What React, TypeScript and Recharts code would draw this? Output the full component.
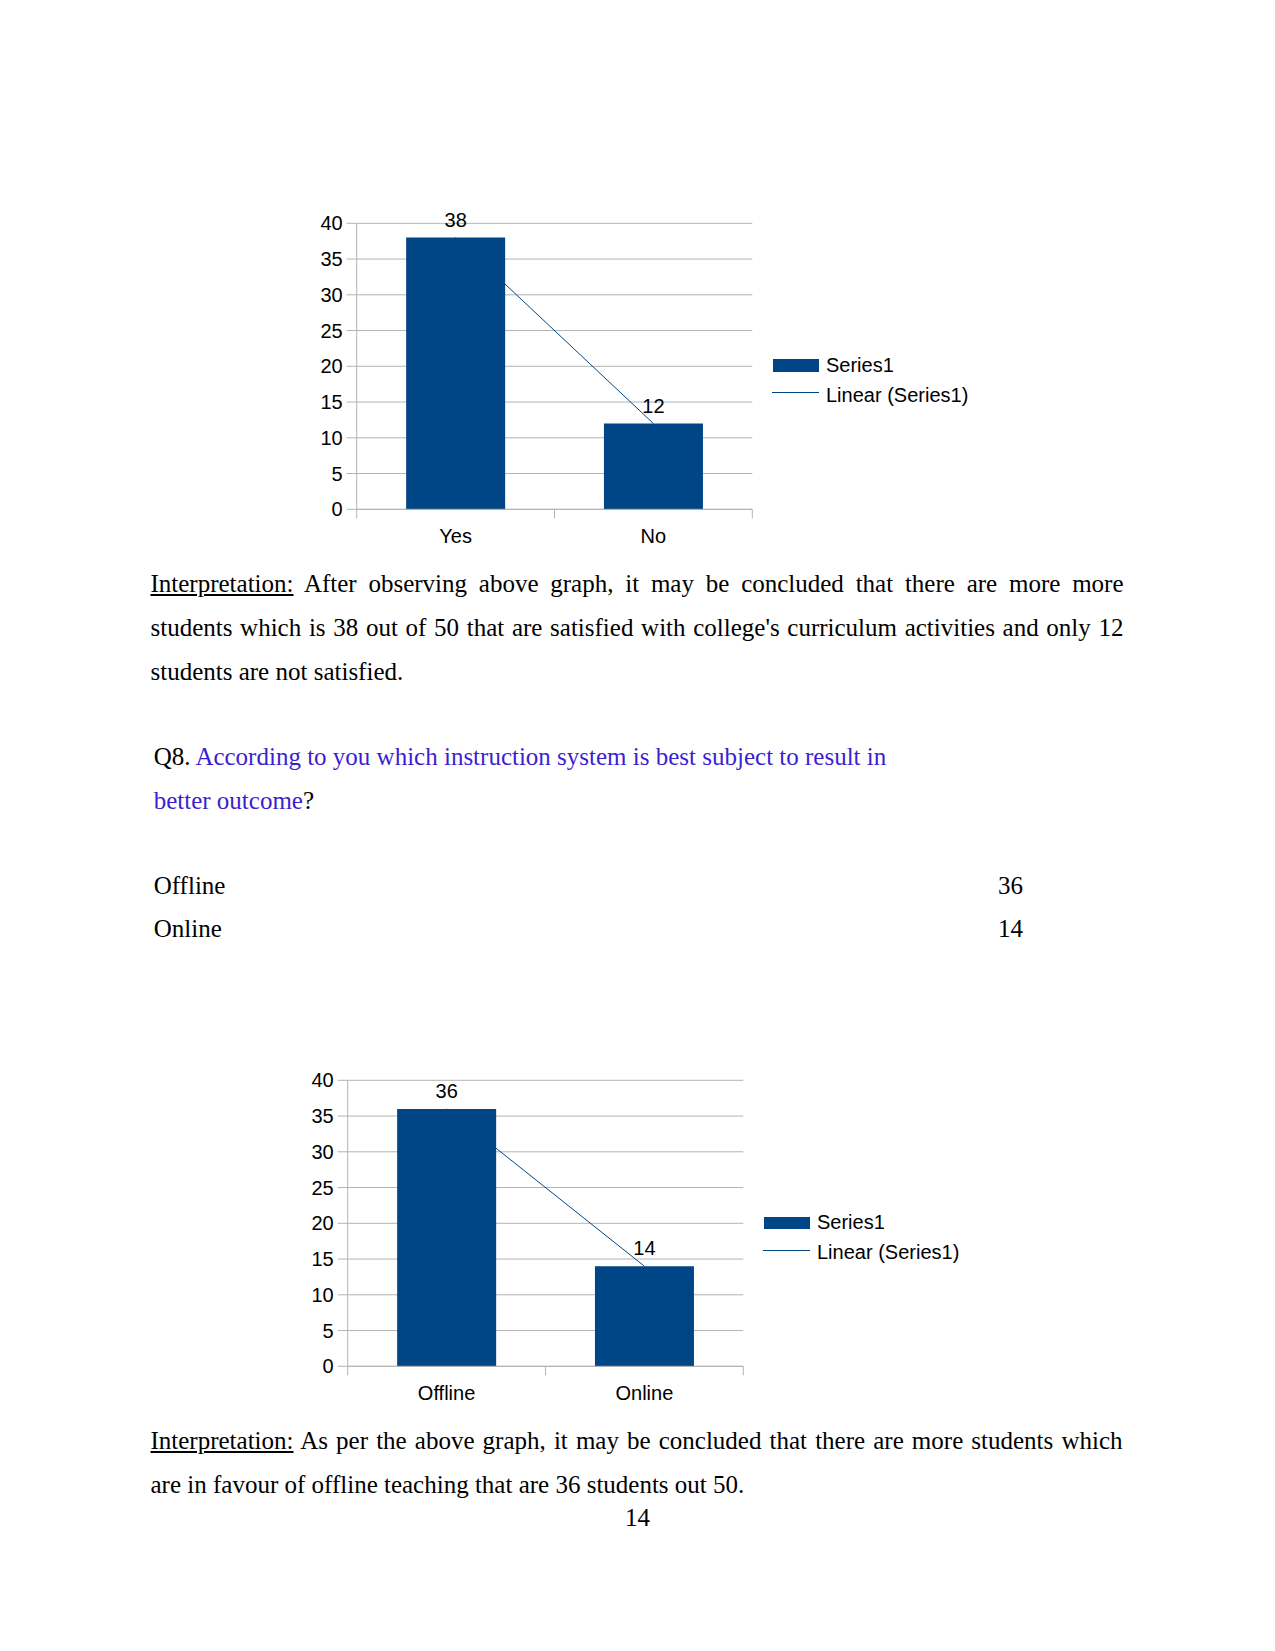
import React from 'react';
import { ComposedChart, Bar, Line, XAxis, YAxis, CartesianGrid, LabelList } from 'recharts';

// Q7: satisfied with college's curriculum activities
const q7Categories = ['Yes', 'No'];
const q7Values = [38, 12];

// Q8: instruction system giving better outcome
const q8Categories = ['Offline', 'Online'];
const q8Values = [36, 14];

const yTicks = [0, 5, 10, 15, 20, 25, 30, 35, 40];
const seriesName = 'Series1';
const trendName = 'Linear (Series1)';

const BAR_COLOR = '#004586';
const GRID = '#b3b3b3';
const SANS = '"Liberation Sans", Arial, sans-serif';
const SERIF = '"Liberation Serif", "Times New Roman", serif';
const BLUE = '#3c1ed2';
const FS = 20;

// least-squares trend line over the category index, like the office "Linear" trendline
const linearTrend = (values: number[]) => {
  const n = values.length;
  const xs = values.map((_, i) => i);
  const mx = xs.reduce((a, b) => a + b, 0) / n;
  const my = values.reduce((a, b) => a + b, 0) / n;
  let num = 0;
  let den = 0;
  xs.forEach((x, i) => {
    num += (x - mx) * (values[i] - my);
    den += (x - mx) * (x - mx);
  });
  const slope = den ? num / den : 0;
  return xs.map((x) => my + slope * (x - mx));
};

const buildRows = (cats: string[], vals: number[]) => {
  const trend = linearTrend(vals);
  return cats.map((name, i) => ({ name, value: vals[i], trend: trend[i] }));
};

const CHART_W = 480;
const CHART_H = 360;
const PLOT_HALF_BAND = (CHART_W - 76.7 - 7.7) / 4;

const CategoryTick = (props: any) => {
  const { x, y, payload, index, visibleTicksCount } = props;
  const half = payload && payload.offset ? payload.offset : PLOT_HALF_BAND;
  return (
    <g>
      <line x1={x - half} x2={x - half} y1={y} y2={y + 9} stroke={GRID} />
      {index === visibleTicksCount - 1 && (
        <line x1={x + half} x2={x + half} y1={y} y2={y + 9} stroke={GRID} />
      )}
      <text x={x} y={y + 34} textAnchor="middle" fill="#000" fontSize={FS} fontFamily={SANS}>
        {payload.value}
      </text>
    </g>
  );
};

function SurveyChart({ cats, vals, left, top }: { cats: string[]; vals: number[]; left: number; top: number }) {
  const rows = buildRows(cats, vals);
  return (
    <div style={{ position: 'absolute', left, top, width: CHART_W, height: CHART_H }}>
      <ComposedChart
        width={CHART_W}
        height={CHART_H}
        data={rows}
        margin={{ top: 33.3, right: 7.7, bottom: 0, left: 0 }}
        barCategoryGap="25%"
      >
        <CartesianGrid stroke={GRID} vertical={false} />
        <XAxis
          dataKey="name"
          height={40.7}
          axisLine={{ stroke: GRID }}
          tickLine={false}
          tickSize={0}
          tickMargin={0}
          tick={<CategoryTick />}
          interval={0}
        />
        <YAxis
          width={76.7}
          domain={[0, 40]}
          ticks={yTicks}
          interval={0}
          axisLine={{ stroke: GRID }}
          tickLine={{ stroke: GRID }}
          tickSize={10}
          tickMargin={4}
          tick={{ fill: '#000', fontSize: FS, fontFamily: SANS }}
        />
        <YAxis
          yAxisId="frame"
          orientation="right"
          width={0}
          domain={[0, 40]}
          tick={false}
          tickLine={false}
          axisLine={{ stroke: GRID }}
        />
        <Bar dataKey="value" name={seriesName} fill={BAR_COLOR} isAnimationActive={false}>
          <LabelList dataKey="value" position="top" offset={11} fill="#000" fontSize={FS} fontFamily={SANS} />
        </Bar>
        <Line
          type="linear"
          dataKey="trend"
          name={trendName}
          stroke={BAR_COLOR}
          strokeWidth={1}
          dot={false}
          activeDot={false}
          isAnimationActive={false}
        />
      </ComposedChart>
    </div>
  );
}

function ChartLegend({ left, top }: { left: number; top: number }) {
  const text: React.CSSProperties = {
    position: 'absolute',
    left: 53,
    fontFamily: SANS,
    fontSize: FS,
    lineHeight: '22px',
    whiteSpace: 'nowrap',
    color: '#000',
  };
  return (
    <div style={{ position: 'absolute', left, top }}>
      <div style={{ position: 'absolute', left: 0, top: 0, width: 46, height: 12.4, background: BAR_COLOR }} />
      <div style={{ ...text, top: 5.7 - 11 }}>{seriesName}</div>
      <div style={{ position: 'absolute', left: -1, top: 33, width: 47, height: 1, background: BAR_COLOR }} />
      <div style={{ ...text, top: 35.5 - 11 }}>{trendName}</div>
    </div>
  );
}

const LH = 44.2;
const para: React.CSSProperties = {
  position: 'absolute',
  fontFamily: SERIF,
  fontSize: 25,
  lineHeight: `${LH}px`,
  color: '#000',
  whiteSpace: 'nowrap',
};
const full: React.CSSProperties = { textAlign: 'justify', textAlignLast: 'justify', whiteSpace: 'normal' };

export default function App() {
  return (
    <div style={{ position: 'absolute', left: 0, top: 0, width: 1275, height: 1651, background: '#fff', overflow: 'hidden' }}>
      <SurveyChart cats={q7Categories} vals={q7Values} left={280} top={190} />
      <ChartLegend left={773} top={359.3} />

      <div style={{ ...para, left: 150.5, top: 561.5, width: 973 }}>
        <div style={full}>
          <span style={{ textDecoration: 'underline' }}>Interpretation:</span> After observing above graph, it may be concluded that there are more more
        </div>
        <div style={full}>
          students which is 38 out of 50 that are satisfied with college's curriculum activities and only 12
        </div>
        <div>students are not satisfied.</div>
      </div>

      <div style={{ ...para, left: 153.7, top: 735.4, lineHeight: '43.4px' }}>
        <div>
          Q8. <span style={{ color: BLUE }}>According to you which instruction system is best subject to result in</span>
        </div>
        <div>
          <span style={{ color: BLUE }}>better outcome</span>?
        </div>
      </div>

      <div style={{ ...para, left: 153.7, top: 863.7, width: 869.3, lineHeight: '43.4px' }}>
        {q8Categories.map((c, i) => (
          <div key={c} style={{ display: 'flex', justifyContent: 'space-between' }}>
            <span>{c}</span>
            <span>{q8Values[i]}</span>
          </div>
        ))}
      </div>

      <SurveyChart cats={q8Categories} vals={q8Values} left={271} top={1047.4} />
      <ChartLegend left={764} top={1216.7} />

      <div style={{ ...para, left: 150.5, top: 1418.7, width: 972 }}>
        <div style={full}>
          <span style={{ textDecoration: 'underline' }}>Interpretation:</span> As per the above graph, it may be concluded that there are more students which
        </div>
        <div>are in favour of offline teaching that are 36 students out 50.</div>
      </div>

      <div style={{ ...para, left: 537.5, top: 1496.4, width: 200, textAlign: 'center' }}>14</div>
    </div>
  );
}
